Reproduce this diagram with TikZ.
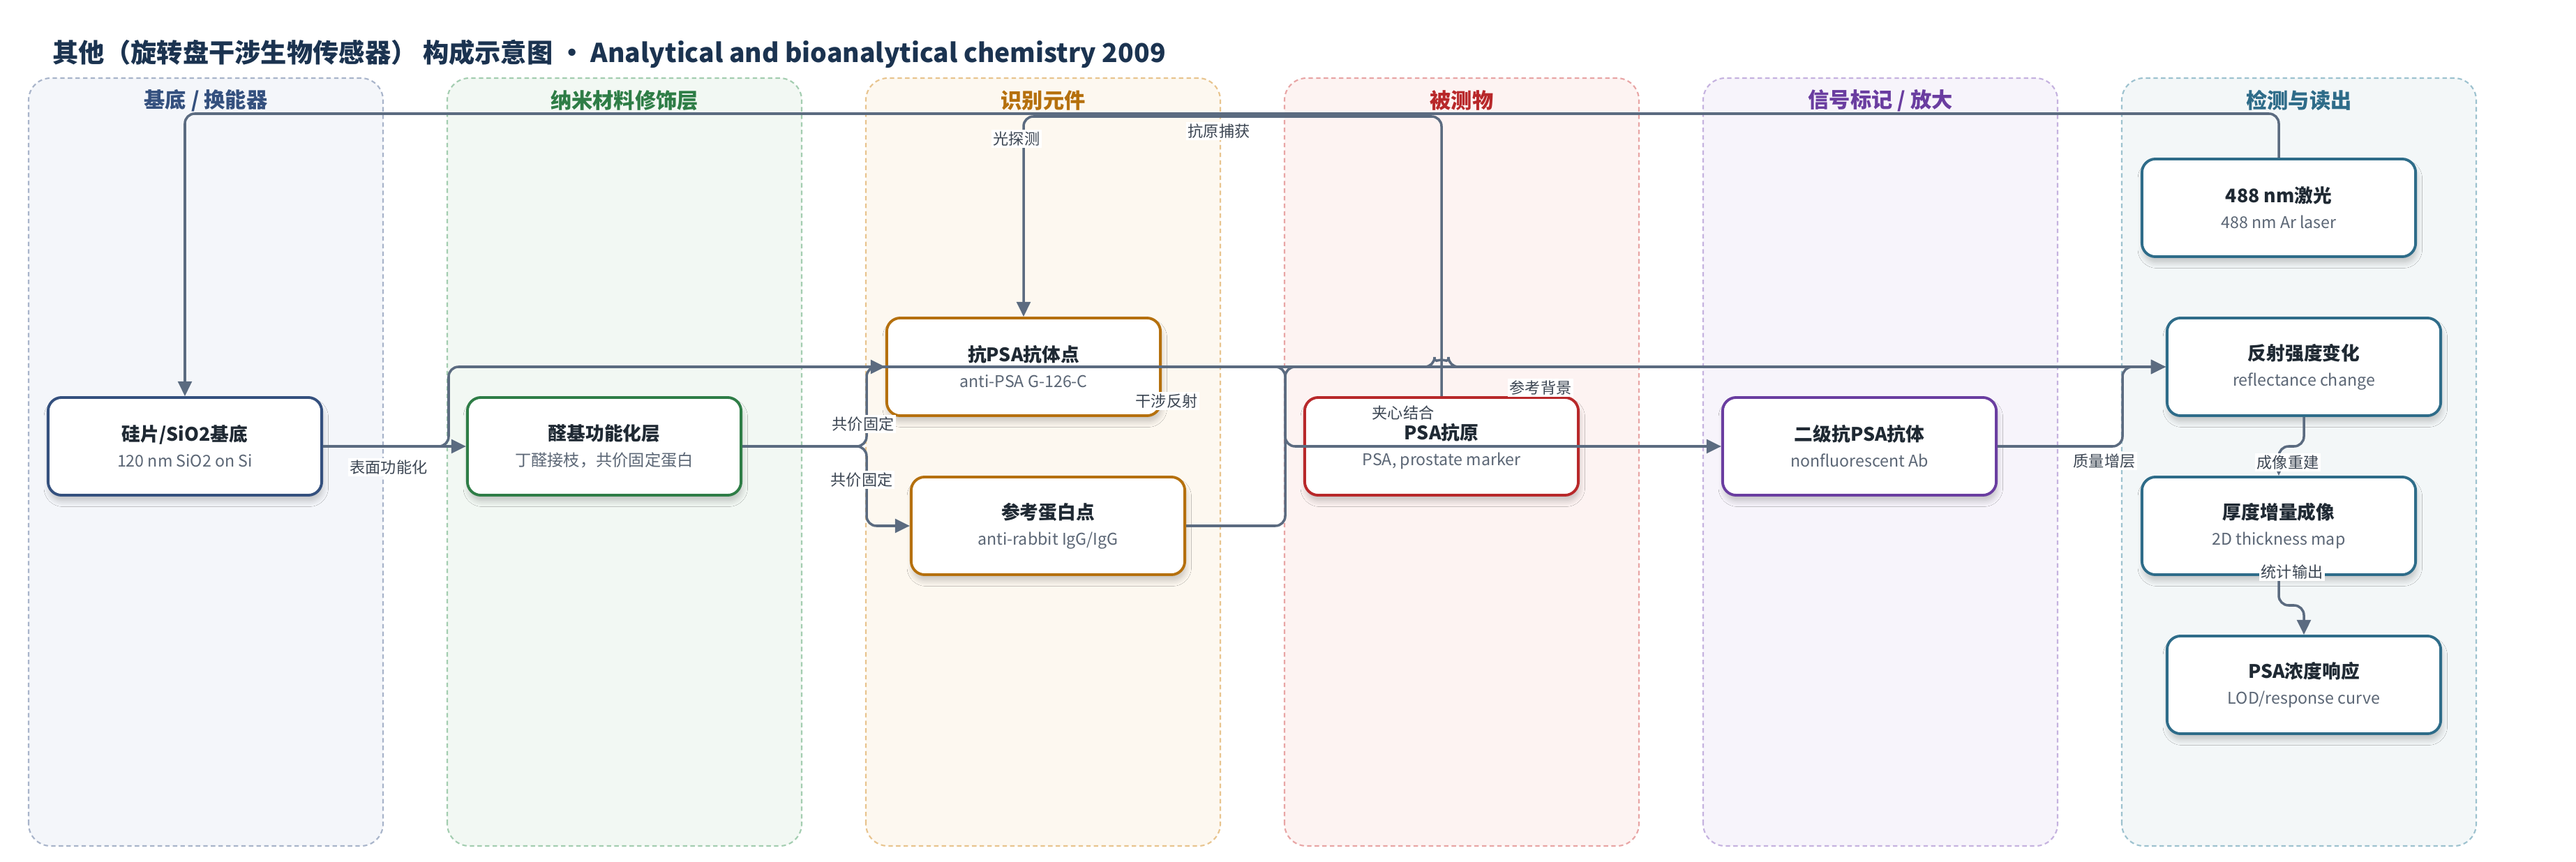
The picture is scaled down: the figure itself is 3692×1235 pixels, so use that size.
\documentclass[tikz,border=0pt]{standalone}
\usepackage{fontspec}
\setmainfont{Noto Sans CJK SC}
\usetikzlibrary{arrows.meta,shadows.blur}

\definecolor{titleink}{HTML}{1B3350}
\definecolor{ink}{HTML}{1F2933}
\definecolor{subink}{HTML}{5B6675}
\definecolor{lblink}{HTML}{3C4653}
\definecolor{wire}{HTML}{5B6B80}
%% lane colours
\definecolor{navy}{HTML}{34507E}
\definecolor{green}{HTML}{2E7D46}
\definecolor{orange}{HTML}{B5700D}
\definecolor{red}{HTML}{B8282A}
\definecolor{purple}{HTML}{6A3DA0}
\definecolor{teal}{HTML}{2E6C89}
\definecolor{navyfill}{HTML}{F4F6FA}
\definecolor{greenfill}{HTML}{F2F8F3}
\definecolor{orangefill}{HTML}{FDF8F0}
\definecolor{redfill}{HTML}{FDF3F2}
\definecolor{purplefill}{HTML}{F7F4FB}
\definecolor{tealfill}{HTML}{F3F7F8}
\definecolor{navyline}{HTML}{A8B4CA}
\definecolor{greenline}{HTML}{A3CDB0}
\definecolor{orangeline}{HTML}{E8C48E}
\definecolor{redline}{HTML}{E8A5A5}
\definecolor{purpleline}{HTML}{C5B2DF}
\definecolor{tealline}{HTML}{9DC2CF}

\newcommand{\boxtext}[2]{{\bfseries\color{ink}#1}\\{\fontsize{6.6}{8}\selectfont\color{subink}#2}}

\begin{document}
\begin{tikzpicture}[x=0.01cm,y=0.01cm,
    lane/.style={rounded corners=9pt, dash pattern=on 1.8pt off 1.3pt, line width=0.6pt},
    lanetitle/.style={font=\fontsize{8.6}{10}\selectfont\bfseries},
    box/.style={draw=#1, fill=white, line width=1.1pt, rounded corners=5.5pt,
        minimum width=3.92cm, minimum height=1.4cm, align=center, inner sep=2pt,
        font=\fontsize{7.6}{10.5}\selectfont,
        blur shadow={shadow xshift=0.5pt, shadow yshift=-2.5pt, shadow opacity=20, shadow blur steps=6}},
    flow/.style={draw=wire, line width=1pt, rounded corners=4pt, -{Triangle[length=6pt,width=5.6pt]}},
    lbl/.style={fill=white, inner sep=0.8pt, text=lblink, font=\fontsize{6.3}{7}\selectfont}]
    \fill[white] (0,0) rectangle (3692,1235);
    \useasboundingbox (0,0) rectangle (3692,1235);

    %% title
    \node[anchor=west, inner sep=0, text=titleink, font=\fontsize{10.6}{13}\selectfont\bfseries] (title) at (75,1158)
        {其他（旋转盘干涉生物传感器） 构成示意图 · Analytical and bioanalytical chemistry 2009};

    %% lanes
    \draw[lane, draw=navyline, fill=navyfill] (41,22) rectangle (549,1123);
    \node[lanetitle, text=navy] (t1) at (295,1091) {基底 / 换能器};
    \draw[lane, draw=greenline, fill=greenfill] (641,22) rectangle (1149,1123);
    \node[lanetitle, text=green] (t2) at (895,1091) {纳米材料修饰层};
    \draw[lane, draw=orangeline, fill=orangefill] (1241,22) rectangle (1749,1123);
    \node[lanetitle, text=orange] (t3) at (1495,1091) {识别元件};
    \draw[lane, draw=redline, fill=redfill] (1841,22) rectangle (2349,1123);
    \node[lanetitle, text=red] (t4) at (2095,1091) {被测物};
    \draw[lane, draw=purpleline, fill=purplefill] (2441,22) rectangle (2949,1123);
    \node[lanetitle, text=purple] (t5) at (2695,1091) {信号标记 / 放大};
    \draw[lane, draw=tealline, fill=tealfill] (3041,22) rectangle (3549,1123);
    \node[lanetitle, text=teal] (t6) at (3295,1091) {检测与读出};

    %% components
    \node[box=navy] (si) at (265,595) {\boxtext{硅片/SiO2基底}{120 nm SiO2 on Si}};
    \node[box=green] (ald) at (866,595) {\boxtext{醛基功能化层}{丁醛接枝，共价固定蛋白}};
    \node[box=orange] (abpsa) at (1467,709) {\boxtext{抗PSA抗体点}{anti-PSA G-126-C}};
    \node[box=orange] (refp) at (1502,481) {\boxtext{参考蛋白点}{anti-rabbit IgG/IgG}};
    \node[box=red] (psa) at (2066,595) {\boxtext{PSA抗原}{PSA, prostate marker}};
    \node[box=purple] (er) at (2665,595) {\boxtext{二级抗PSA抗体}{nonfluorescent Ab}};
    \node[box=teal] (laser) at (3266,937) {\boxtext{488 nm激光}{488 nm Ar laser}};
    \node[box=teal] (refl) at (3302,709) {\boxtext{反射强度变化}{reflectance change}};
    \node[box=teal] (thick) at (3266,481) {\boxtext{厚度增量成像}{2D thickness map}};
    \node[box=teal] (resp) at (3302,253) {\boxtext{PSA浓度响应}{LOD/response curve}};

    %% optical path
    \draw[flow] (laser.north) -- (laser.north |- 0,1072) -- (si.north |- 0,1072) -- (si.north);
    \draw[flow] (psa.north) -- (psa.north |- 0,1068) -- (abpsa.north |- 0,1068) -- (abpsa.north);
    %% surface chemistry
    \draw[flow] (si.east) -- (ald.west);
    \draw[flow] (si.east) -- (643,595) -- (643,709) -- (2056,709) arc[start angle=180, end angle=0, radius=10] -- (refl.west);
    \draw[flow] (ald.east) -- (1242,595) -- (1242,709) -- (abpsa.west);
    \draw[flow] (ald.east) -- (1242,595) -- (1242,481) -- (refp.west);
    %% binding
    \draw[flow] (abpsa.east) -- (1842,709) -- (1842,595) -- (er.west);
    \draw[flow] (refp.east) -- (1842,481) -- (1842,709) -- (refl.west);
    \draw[flow] (er.east) -- (3042,595) -- (3042,709) -- (refl.west);
    %% readout
    \draw[flow] (refl.south) -- (refl.south |- 0,595) -- (thick.north |- 0,595) -- (thick.north);
    \draw[flow] (thick.south) -- (thick.south |- 0,367) -- (resp.north |- 0,367) -- (resp.north);

    %% edge labels
    \node[lbl] (l1) at (557,565) {表面功能化};
    \node[lbl] (l2) at (1457,1036) {光探测};
    \node[lbl] (l3) at (1747,1047) {抗原捕获};
    \node[lbl] (l4) at (1672,660) {干涉反射};
    \node[lbl] (l5) at (1237,627) {共价固定};
    \node[lbl] (l6) at (1235,547) {共价固定};
    \node[lbl] (l7) at (2208,679) {参考背景};
    \node[lbl] (l8) at (2011,643) {夹心结合};
    \node[lbl] (l9) at (3016,574) {质量增层};
    \node[lbl] (l10) at (3279,572) {成像重建};
    \node[lbl] (l11) at (3285,415) {统计输出};
\end{tikzpicture}
\end{document}
